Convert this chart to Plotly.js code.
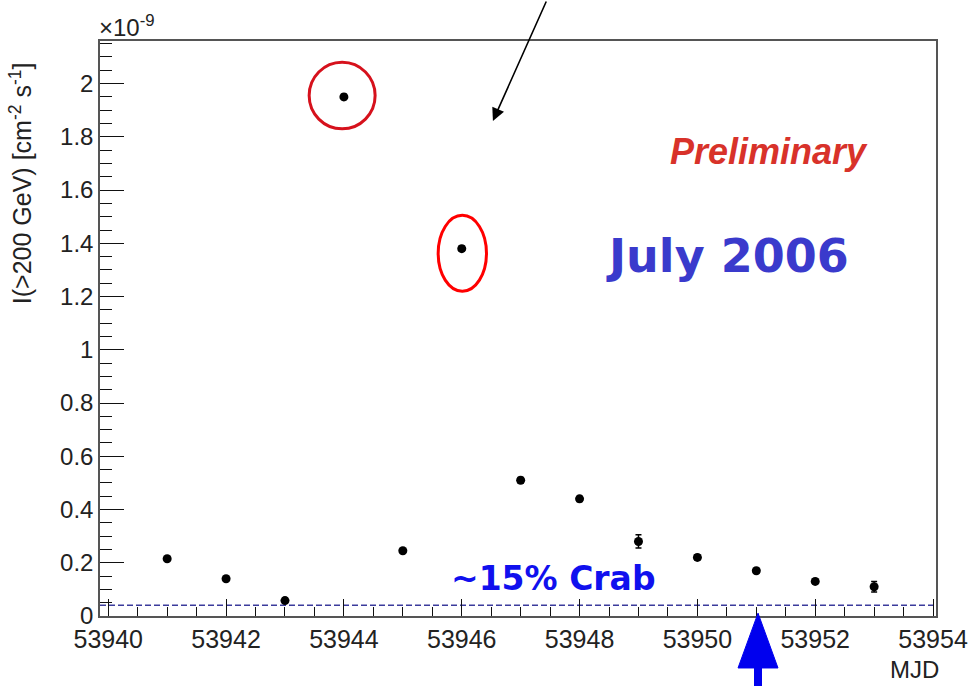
<!DOCTYPE html>
<html>
<head>
<meta charset="utf-8">
<script src="https://cdn.plot.ly/plotly-3.0.1.min.js"></script>
<style>html,body{margin:0;padding:0;background:#fff;}#chart{width:970px;height:686px;}</style>
</head>
<body>
<div id="chart"></div>
<script>
// Data (flux in units of 1e-9 cm^-2 s^-1)
const mjd = [53941, 53942, 53943, 53944, 53945, 53946, 53947, 53948, 53949, 53950, 53951, 53952, 53953];
const flux = [0.215, 0.14, 0.058, 1.95, 0.245, 1.38, 0.51, 0.44, 0.28, 0.22, 0.17, 0.13, 0.11];
const fluxErr = [0.008, 0.008, 0.01, 0.01, 0.008, 0.01, 0.01, 0.01, 0.025, 0.01, 0.008, 0.008, 0.02];
const crabLevel = 0.04;
const xRange = [53939.86, 53954.05];
const yRange = [0, 2.16];

const traces = [
  {
    x: [xRange[0], xRange[1]],
    y: [crabLevel, crabLevel],
    mode: 'lines',
    line: {color: '#3b3b9c', width: 1.5, dash: '6px,3px'},
    hoverinfo: 'skip',
    showlegend: false
  },
  {
    x: mjd,
    y: flux,
    mode: 'markers',
    marker: {color: '#000', size: 9},
    error_y: {type: 'data', array: fluxErr, color: '#000', thickness: 1.5, width: 3},
    showlegend: false
  }
];

const ft = 'Liberation Sans, Arial, sans-serif';
const tickC = '#111';

const layout = {
  width: 970, height: 686,
  margin: {l: 100, r: 34, t: 41, b: 70},
  paper_bgcolor: '#fff', plot_bgcolor: '#fff',
  showlegend: false,
  xaxis: {
    range: xRange, dtick: 2, tick0: 53940,
    ticks: 'inside', ticklen: 17, tickwidth: 1.3, tickcolor: tickC,
    minor: {ticks: 'inside', ticklen: 9, dtick: 0.5, tickwidth: 1.3, tickcolor: tickC},
    showgrid: false, zeroline: false,
    showline: true, linecolor: '#555', linewidth: 1.5, mirror: true,
    tickfont: {family: ft, size: 25, color: '#222'},
    tickformat: 'd'
  },
  yaxis: {
    range: yRange, dtick: 0.2,
    ticks: 'inside', ticklen: 24, tickwidth: 1.3, tickcolor: tickC,
    minor: {ticks: 'inside', ticklen: 12, dtick: 0.05, tickwidth: 1.3, tickcolor: tickC},
    showgrid: false, zeroline: false,
    showline: true, linecolor: '#555', linewidth: 1.5, mirror: true,
    tickfont: {family: ft, size: 24, color: '#222'},
    tickformat: '~g'
  },
  shapes: [
    {type: 'circle', xref: 'x', yref: 'y', x0: 53943.41, x1: 53944.53, y0: 1.83, y1: 2.08,
     line: {color: '#d6111c', width: 3}},
    {type: 'circle', xref: 'x', yref: 'y', x0: 53945.6, x1: 53946.42, y0: 1.22, y1: 1.505,
     line: {color: '#ff0000', width: 3}},
    // blue arrow below axis (pointing up at MJD 53951)
    {type: 'path', xref: 'paper', yref: 'paper',
     path: 'M 0.7871 0.005 L 0.7632 -0.0904 L 0.8110 -0.0904 Z',
     fillcolor: '#0000ee', line: {color: '#0000ee', width: 1}},
    {type: 'rect', xref: 'paper', yref: 'paper', x0: 0.7823, x1: 0.7919, y0: -0.0904, y1: -0.125,
     fillcolor: '#0000ee', line: {width: 0}}
  ],
  annotations: [
    {text: '×10<sup>-9</sup>', xref: 'paper', yref: 'paper', x: -0.003, y: 0.997, xanchor: 'left', yanchor: 'bottom',
     showarrow: false, font: {family: ft, size: 24, color: '#222'}},
    {text: 'I(>200 GeV) [cm<sup>-2</sup> s<sup>-1</sup>]', xref: 'paper', yref: 'paper', x: -0.095, y: 0.752,
     xanchor: 'center', yanchor: 'middle', textangle: -90, showarrow: false,
     font: {family: ft, size: 25, color: '#222'}},
    {text: 'MJD', xref: 'paper', yref: 'paper', x: 1.006, y: -0.093, xanchor: 'right', yanchor: 'middle',
     showarrow: false, font: {family: ft, size: 24, color: '#222'}},
    {text: '<b><i>Preliminary</i></b>', xref: 'paper', yref: 'paper', x: 0.80, y: 0.807, xanchor: 'center', yanchor: 'middle',
     showarrow: false, font: {family: ft, size: 36, color: '#d8322a'}},
    {text: '<b>July 2006</b>', xref: 'paper', yref: 'paper', x: 0.75, y: 0.626, xanchor: 'center', yanchor: 'middle',
     showarrow: false, font: {family: 'DejaVu Sans, sans-serif', size: 46, color: '#3a3acc'}},
    {text: '<b>~15% Crab</b>', xref: 'paper', yref: 'paper', x: 0.542, y: 0.066, xanchor: 'center', yanchor: 'middle',
     showarrow: false, font: {family: 'DejaVu Sans, sans-serif', size: 33, color: '#1010ee'}},
    {text: '', xref: 'paper', yref: 'paper', x: 0.470, y: 0.861, showarrow: true,
     ax: 54, ay: -125, arrowhead: 2, arrowsize: 1.6, arrowwidth: 1.6, arrowcolor: '#000'}
  ]
};

Plotly.newPlot('chart', traces, layout, {displayModeBar: false});
</script>
</body>
</html>
